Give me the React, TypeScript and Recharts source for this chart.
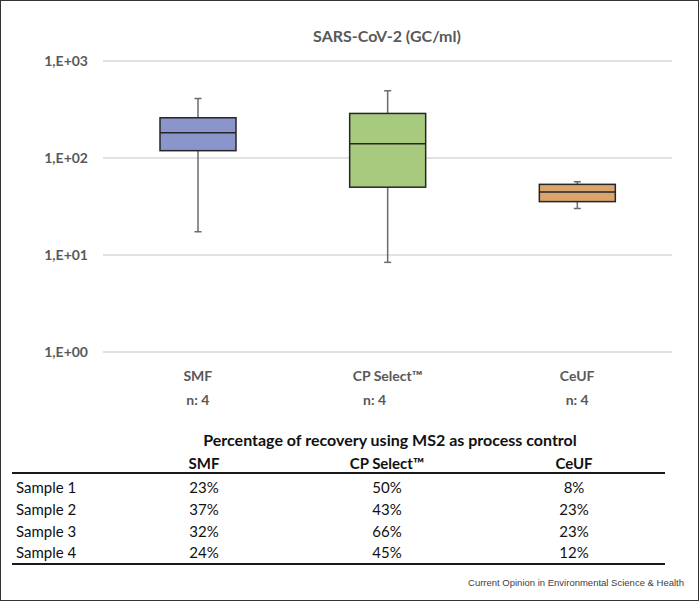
import React from "react";
import { ComposedChart, Bar, XAxis, YAxis, CartesianGrid } from "recharts";

const methods = ["SMF", "CP Select™", "CeUF"];
const sampleCounts = [4, 4, 4];
const mins = [17.4, 8.4, 30.2];
const q1s = [119, 50, 35.5];
const medians = [182, 140, 44.7];
const q3s = [260, 288, 53.5];
const maxs = [411, 494, 57];
const boxColors = ["#8a95cc", "#a8ca7e", "#d9a46e"];
const yTicks = [1, 10, 100, 1000];

const sampleLabels = ["Sample 1", "Sample 2", "Sample 3", "Sample 4"];
const recoverySMF = ["23%", "37%", "32%", "24%"];
const recoveryCP = ["50%", "43%", "66%", "45%"];
const recoveryCeUF = ["8%", "23%", "23%", "12%"];

const FONT = "Lato, 'Open Sans', sans-serif";
const GREY = "#595959";

const chartData = methods.map((m, i) => ({
  name: m,
  n: sampleCounts[i],
  range: [mins[i], maxs[i]],
  min: mins[i],
  q1: q1s[i],
  median: medians[i],
  q3: q3s[i],
  max: maxs[i],
  color: boxColors[i],
}));

function formatExp(v: number) {
  const e = Math.round(Math.log10(v));
  return "1,E+" + String(e).padStart(2, "0");
}

// box + whiskers, positions interpolated on the log scale between the bar's min/max pixels
// eslint-disable-next-line @typescript-eslint/no-explicit-any
function BoxShape(props: any) {
  const { x, y, width, height, payload } = props;
  if (payload == null) return null;
  const lo = Math.log10(payload.min);
  const hi = Math.log10(payload.max);
  const py = (v: number) => y + (height * (hi - Math.log10(v))) / (hi - lo);
  const cx = x + width / 2;
  const top = py(payload.q3);
  const bot = py(payload.q1);
  const med = py(payload.median);
  return (
    <g>
      <line x1={cx} x2={cx} y1={py(payload.max)} y2={top} stroke="#6b6b6b" strokeWidth={1.5} />
      <line x1={cx} x2={cx} y1={bot} y2={py(payload.min)} stroke="#6b6b6b" strokeWidth={1.5} />
      <line x1={cx - 3.5} x2={cx + 3.5} y1={py(payload.max)} y2={py(payload.max)} stroke="#6b6b6b" strokeWidth={1.5} />
      <line x1={cx - 3.5} x2={cx + 3.5} y1={py(payload.min)} y2={py(payload.min)} stroke="#6b6b6b" strokeWidth={1.5} />
      <rect x={x} y={top} width={width} height={bot - top} fill={payload.color} stroke="#262626" strokeWidth={1.5} />
      <line x1={x} x2={x + width} y1={med} y2={med} stroke="#262626" strokeWidth={1.5} />
    </g>
  );
}

// eslint-disable-next-line @typescript-eslint/no-explicit-any
function CategoryTick({ x, y, payload, index }: any) {
  const nShift = index === 1 ? -13 : 0;
  return (
    <g>
      <text x={x} y={y + 29} textAnchor="middle" fill={GREY} fontSize={14} fontWeight={700} fontFamily={FONT}>
        {payload.value}
      </text>
      <text x={x + nShift} y={y + 53} textAnchor="middle" fill={GREY} fontSize={14} fontWeight={700} fontFamily={FONT}>
        {"n: " + sampleCounts[index]}
      </text>
    </g>
  );
}

const cell = (left: number, width: number, top: number, text: string, align: "left" | "center", bold = false, size = 15) => (
  <div
    key={text + left + top}
    style={{
      position: "absolute",
      left,
      width,
      top,
      height: 22,
      lineHeight: "22px",
      textAlign: align,
      fontWeight: bold ? 700 : 400,
      fontSize: size,
    }}
  >
    {text}
  </div>
);

export default function App() {
  const colCenters = [204, 387, 574];
  const rowTops = [476, 498, 519.5, 541];
  const columns = [recoverySMF, recoveryCP, recoveryCeUF];
  return (
    <div style={{ position: "absolute", left: 0, top: 0, width: 699, height: 601, background: "#fff", fontFamily: FONT }}>
      <div style={{ position: "absolute", inset: 0, border: "1px solid #333", boxSizing: "border-box" }} />
      <div
        style={{
          position: "absolute",
          left: 187,
          width: 400,
          top: 25,
          textAlign: "center",
          fontSize: 16,
          fontWeight: 700,
          color: GREY,
          lineHeight: "22px",
        }}
      >
        SARS-CoV-2 (GC/ml)
      </div>
      <div style={{ position: "absolute", left: 0, top: 0 }}>
        <ComposedChart width={699} height={420} data={chartData} margin={{ top: 61, right: 27, bottom: 0, left: 0 }}>
          <CartesianGrid vertical={false} stroke="#d9d9d9" strokeWidth={1.5} />
          <XAxis
            dataKey="name"
            axisLine={false}
            tickLine={false}
            tickSize={0}
            tickMargin={0}
            height={68}
            tick={<CategoryTick />}
            interval={0}
          />
          <YAxis
            scale="log"
            domain={[1, 1000]}
            ticks={yTicks}
            tickFormatter={formatExp}
            allowDataOverflow
            axisLine={false}
            tickLine={false}
            tickSize={0}
            tickMargin={15}
            width={103}
            tick={{ fill: GREY, fontSize: 14, fontWeight: 700, fontFamily: FONT }}
          />
          <Bar dataKey="range" barSize={76} shape={<BoxShape />} isAnimationActive={false} />
        </ComposedChart>
      </div>
      <div style={{ position: "absolute", inset: 0, color: "#111" }}>
        {cell(190, 400, 429, "Percentage of recovery using MS2 as process control", "center", true, 16)}
        {methods.map((m, i) => cell(colCenters[i] - 90, 180, 452, m, "center", true))}
        <div style={{ position: "absolute", left: 12, width: 653, top: 472, height: 2, background: "#1a1a1a" }} />
        {sampleLabels.map((s, r) => cell(16, 100, rowTops[r], s, "left"))}
        {columns.map((col, c) => col.map((v, r) => cell(colCenters[c] - 60, 120, rowTops[r], v, "center")))}
        <div style={{ position: "absolute", left: 12, width: 653, top: 563, height: 2, background: "#1a1a1a" }} />
        <div
          style={{
            position: "absolute",
            right: 15,
            top: 577,
            fontSize: 9.5,
            fontFamily: "'Liberation Sans', Arial, sans-serif",
            color: "#404040",
          }}
        >
          Current Opinion in Environmental Science &amp; Health
        </div>
      </div>
    </div>
  );
}
